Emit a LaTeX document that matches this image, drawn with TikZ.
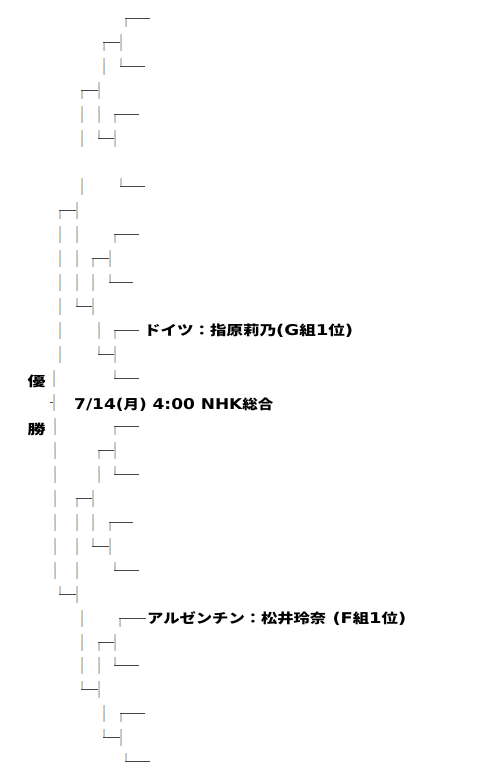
\documentclass[tikz,border=0pt]{standalone}
\usepackage{graphicx}
\usepackage{fontspec}
\newfontfamily\jpf{Noto Sans CJK JP}
\newfontfamily\latf{DejaVu Sans}[Scale=1.1]
\newcommand\J[1]{{\jpf\bfseries #1}}
\newcommand\Lt[1]{{\latf\bfseries #1}}
\newsavebox\Tbox
\newcommand\fitw[2]{\sbox\Tbox{#2}\pgfmathsetmacro\fitf{#1/\the\wd\Tbox}\scalebox{\fitf}[1]{\usebox\Tbox}}
\definecolor{vor}{RGB}{245,196,135}
\definecolor{vbl}{RGB}{150,206,242}
\definecolor{hcol}{RGB}{70,70,74}
\newcommand\Y[1]{round(18.3+23.97*#1)}
\newcommand\Gseg[3]{\fill[vor] ({#1},{#2}) rectangle ({#1+1},{#3});\fill[vbl] ({#1+1},{#2}) rectangle ({#1+2},{#3});}
\newcommand\Gh[3]{\fill[hcol] ({#1},{#3}) rectangle ({#2},{#3+1});}
\newcommand\Gv[2]{\Gseg{#1}{\Y{#2}-8}{\Y{#2}+9}}
\newcommand\Gtl[3]{\Gseg{#1}{\Y{#3}}{\Y{#3}+9}\Gh{#1}{#2}{\Y{#3}}}
\newcommand\Gbl[3]{\Gseg{#1}{\Y{#3}-8}{\Y{#3}+1}\Gh{#1}{#2}{\Y{#3}}}
\tikzset{lbl/.style={anchor=base west, inner sep=0pt, text=black, font=\fontsize{13.5}{16}\selectfont}}
\begin{document}
\begin{tikzpicture}[x=1pt,y=-1pt]
\useasboundingbox (0,0) rectangle (480,773);
\fill[white] (0,0) rectangle (480,773);
% row 0-7
\Gtl{125}{150}{0}
\Gtl{103}{120}{1} \Gv{120}{1}
\Gv{103}{2} \Gbl{120}{145}{2}
\Gtl{81}{98}{3} \Gv{98}{3}
\Gv{81}{4} \Gv{98}{4} \Gtl{114}{139}{4}
\Gv{81}{5} \Gbl{98}{114}{5} \Gv{114}{5}
\Gv{81}{7} \Gbl{120}{145}{7}
% rows 8-15
\Gtl{59}{76}{8} \Gv{76}{8}
\Gv{59}{9} \Gv{76}{9} \Gtl{114}{139}{9}
\Gv{59}{10} \Gv{76}{10} \Gtl{92}{109}{10} \Gv{109}{10}
\Gv{59}{11} \Gv{76}{11} \Gv{92}{11} \Gbl{109}{133}{11}
\Gv{59}{12} \Gbl{76}{92}{12} \Gv{92}{12}
\Gv{59}{13} \Gv{98}{13} \Gtl{114}{139}{13}
\Gv{59}{14} \Gbl{98}{114}{14} \Gv{114}{14}
\Gv{53}{15} \Gbl{114}{139}{15}
% row 16
\Gh{50}{53}{\Y{16}} \Gv{53}{16}
% rows 17-24
\Gv{54}{17} \Gtl{114}{139}{17}
\Gv{54}{18} \Gtl{98}{114}{18} \Gv{114}{18}
\Gv{54}{19} \Gv{98}{19} \Gbl{114}{139}{19}
\Gv{54}{20} \Gtl{76}{92}{20} \Gv{92}{20}
\Gv{54}{21} \Gv{76}{21} \Gv{92}{21} \Gtl{109}{133}{21}
\Gv{54}{22} \Gv{76}{22} \Gbl{92}{109}{22} \Gv{109}{22}
\Gv{54}{23} \Gv{76}{23} \Gbl{114}{139}{23}
\Gbl{59}{76}{24} \Gv{76}{24}
% rows 25-31
\Gv{81}{25} \Gtl{119}{146}{25}
\Gv{81}{26} \Gtl{98}{114}{26} \Gv{114}{26}
\Gv{81}{27} \Gv{98}{27} \Gbl{114}{139}{27}
\Gbl{81}{98}{28} \Gv{98}{28}
\Gv{103}{29} \Gtl{120}{145}{29}
\Gbl{103}{120}{30} \Gv{120}{30}
\Gbl{125}{150}{31}
% texts
\node[lbl] (ger) at (144,335.5) {\fitw{209}{\J{ドイツ：指原莉乃}\Lt{(G}\J{組}\Lt{1}\J{位}\Lt{)}}};
\node[lbl] (arg) at (147,623.5) {\fitw{259}{\J{アルゼンチン：松井玲奈}\Lt{ (F}\J{組}\Lt{1}\J{位}\Lt{)}}};
\node[lbl] (date) at (74,409.3) {\fitw{199}{\Lt{7/14(}\J{月}\Lt{) 4:00 NHK}\J{総合}}};
\node[lbl] (yu) at (27.5,386) {\fitw{18}{\J{優}}};
\node[lbl] (sho) at (27.5,434) {\fitw{18}{\J{勝}}};
\end{tikzpicture}
\end{document}
